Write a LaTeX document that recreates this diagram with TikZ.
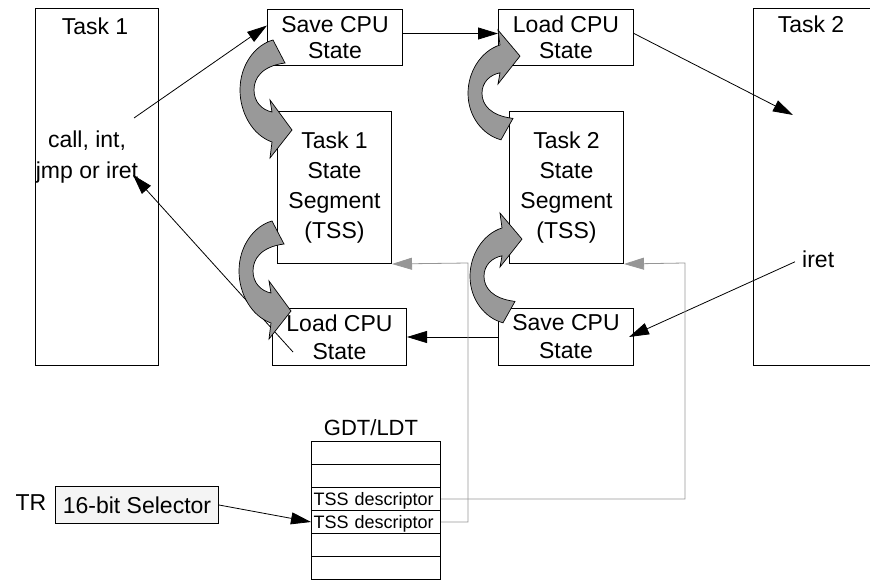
\documentclass[tikz,border=0pt]{standalone}
\usepackage{fontspec}
\setmainfont{Liberation Sans}
\usetikzlibrary{arrows.meta,calc}

\definecolor{blockgray}{RGB}{153,153,153}
\definecolor{linkgray}{RGB}{150,150,150}
\definecolor{selfill}{RGB}{244,244,244}

\tikzset{
  % curved block arrow: Save CPU State -> Task 1 TSS (other three are copies)
  swoosh/.pic={
    \path[swoop] (273,40) -- (285,63)
      .. controls (262,66) and (254,78) .. (254,90)
      .. controls (254,102) and (262,110) .. (272,112)
      -- (270,100) -- (292,130) -- (270,158) -- (272,142)
      .. controls (252,135) and (240,112) .. (240,90)
      .. controls (240,65) and (255,45) .. cycle;
  }
}

\begin{document}
\begin{tikzpicture}[x=1pt,y=-1pt,
  every node/.style={font=\fontsize{23}{26}\selectfont},
  cpubox/.style={draw, line width=1pt, inner sep=0pt, align=center, anchor=north west},
  tablerow/.style={draw, line width=1pt, anchor=north west, minimum width=129pt,
    minimum height=23pt, inner xsep=2pt, inner ysep=0pt, text width=125pt,
    align=left, text depth=0pt, font=\fontsize{18}{18}\selectfont},
  flow/.style={line width=0.8pt, -{Triangle[length=20pt,width=12pt]}},
  link/.style={draw=linkgray, line width=0.8pt, -{Triangle[length=20pt,width=12pt,fill=linkgray]}},
  swoop/.style={fill=blockgray, draw=black, line width=0.7pt, line join=miter}
]
\useasboundingbox (0,0) rectangle (870,580);
\clip (0,0) rectangle (870,580);

% tasks
\node[cpubox, minimum width=123pt, minimum height=357pt] (task1) at (35,8) {};
\node[anchor=base] (task1lbl) at (95,35) {Task 1};
\node[align=center, font=\fontsize{23}{31}\selectfont] (calltxt) at (87,157) {call, int,\\jmp or iret};

\node[cpubox, minimum width=140pt, minimum height=357pt] (task2) at (753,8) {};
\node[anchor=base] (task2lbl) at (811,33) {Task 2};
\node[anchor=base west, inner sep=0pt] (iretR) at (802,267) {iret};

% processor state boxes
\node[cpubox, minimum width=135pt, minimum height=56pt] (save1) at (267,9) {Save CPU\\State};
\node[cpubox, minimum width=135pt, minimum height=56pt] (load1) at (498,9) {Load CPU\\State};
\node[cpubox, minimum width=114pt, minimum height=152pt, font=\fontsize{23}{30}\selectfont] (tss1) at (277,111) {Task 1\\State\\Segment\\(TSS)};
\node[cpubox, minimum width=114pt, minimum height=152pt, font=\fontsize{23}{30}\selectfont] (tss2) at (509,111) {Task 2\\State\\Segment\\(TSS)};
\node[cpubox, minimum width=134pt, minimum height=57pt, font=\fontsize{23}{28}\selectfont] (load2) at (272,308) {Load CPU\\State};
\node[cpubox, minimum width=135pt, minimum height=57pt, font=\fontsize{23}{28}\selectfont] (save2) at (498,308) {Save CPU\\State};

% descriptor table
\node[font=\fontsize{22}{22}\selectfont] (gdt) at (371,428) {GDT/LDT};
\node[tablerow] (r1) at (311,441) {};
\node[tablerow] (r2) at (311,464) {};
\node[tablerow] (r3) at (311,487) {TSS descriptor};
\node[tablerow] (r4) at (311,510) {TSS descriptor};
\node[tablerow] (r5) at (311,533) {};
\node[tablerow] (r6) at (311,556) {};

% task register
\node (tr) at (31,503) {TR};
\node[draw, fill=selfill, line width=1pt, minimum width=163pt, minimum height=37pt,
  inner sep=0pt, anchor=north west] (sel) at (55,486) {16-bit Selector};

% free ends of connectors
\coordinate (callsrc) at (134,118);
\coordinate (jmptip) at (133,175);
\coordinate (task2tip) at (793,115);
\coordinate (bendL) at (468,263);
\coordinate (bendR) at (685,263);

% control flow
\draw[flow] (callsrc) -- ($(save1.north west)!0.29!(save1.south west)$);
\draw[flow] ($(save1.east)+(0,-4)$) -- ($(load1.west)+(0,-4)$);
\draw[flow] ($(load1.east)+(0,-4)$) -- (task2tip);
\draw[flow] ($(iretR.west)+(-7,3)$) -- ($(save2.east)+(-5,0)$);
\draw[flow] (save2.west) -- (load2.east);
\draw[flow] ($(load2.north west)+(21,44)$) -- (jmptip);
\draw[flow] (sel.east) -- (r4.west);

% descriptor links to the segments
\draw[link] (r3.east) -| (bendR) -- (tss2.south east);
\draw[link] (r4.east) -| (bendL) -- (tss1.south east);

% state transfer arrows
\pic {swoosh};
\begin{scope}[shift={(-1,181)}]
  \pic {swoosh};
\end{scope}
\begin{scope}[shift={(228,177)}, yscale=-0.93]
  \pic[transform shape] {swoosh};
\end{scope}
\begin{scope}[shift={(230,360)}, yscale=-0.93]
  \pic[transform shape] {swoosh};
\end{scope}
\end{tikzpicture}
\end{document}
